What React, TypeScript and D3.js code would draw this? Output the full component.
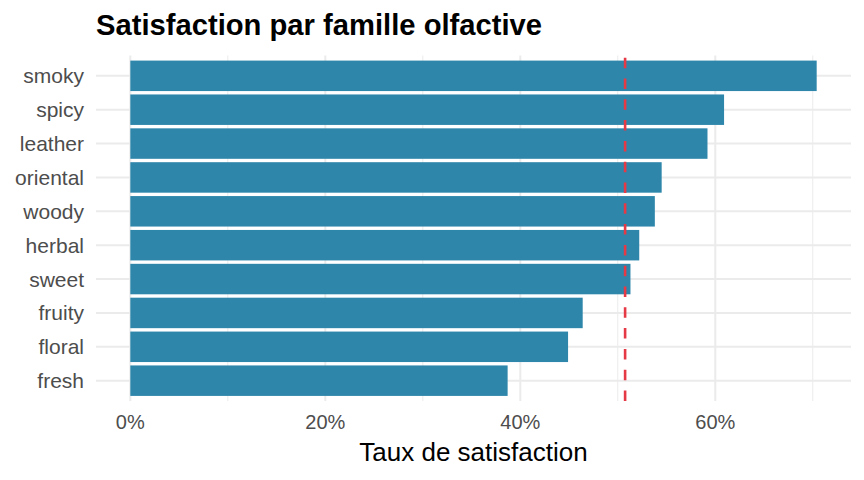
import React from "react";
import * as d3 from "d3";

const categories = ["smoky", "spicy", "leather", "oriental", "woody", "herbal", "sweet", "fruity", "floral", "fresh"];
const satisfaction = [0.704, 0.609, 0.592, 0.545, 0.538, 0.522, 0.513, 0.464, 0.449, 0.387];
const referenceRate = 0.5075;
const majorTicks = [0, 0.2, 0.4, 0.6];
const minorTicks = [0.1, 0.3, 0.5, 0.7];

const W = 864;
const H = 480;
const panel = { left: 96, right: 851, top: 55.5, bottom: 401 };

export default function App() {
  const maxV = d3.max(satisfaction) as number;
  const pad = maxV * 0.05;
  const x = d3.scaleLinear().domain([-pad, maxV + pad]).range([panel.left, panel.right]);
  const y = d3
    .scaleBand<string>()
    .domain(categories)
    .range([panel.top, panel.bottom])
    .paddingInner(0.1)
    .paddingOuter(0.15);
  const fmt = d3.format(".0%");
  const font = "'Liberation Sans', Arial, sans-serif";

  return (
    <svg width={W} height={H} style={{ position: "absolute", left: 0, top: 0 }} fontFamily={font}>
      <rect width={W} height={H} fill="#ffffff" />
      <text x={96} y={35} fontSize={29.2} fontWeight="bold" fill="#000">
        Satisfaction par famille olfactive
      </text>
      {minorTicks.map((t) => (
        <line key={"mi" + t} x1={x(t)} x2={x(t)} y1={panel.top} y2={panel.bottom} stroke="#ebebeb" strokeWidth={1} />
      ))}
      {majorTicks.map((t) => (
        <line key={"ma" + t} x1={x(t)} x2={x(t)} y1={panel.top} y2={panel.bottom} stroke="#ebebeb" strokeWidth={2} />
      ))}
      {categories.map((c) => {
        const cy = (y(c) as number) + y.bandwidth() / 2;
        return (
          <line key={"hg" + c} x1={panel.left} x2={panel.right} y1={cy} y2={cy} stroke="#ebebeb" strokeWidth={2} />
        );
      })}
      {categories.map((c, i) => (
        <rect
          key={"b" + c}
          x={x(0)}
          y={y(c) as number}
          width={x(satisfaction[i]) - x(0)}
          height={y.bandwidth()}
          fill="#2E86AB"
        />
      ))}
      <line
        x1={x(referenceRate)}
        x2={x(referenceRate)}
        y1={panel.bottom}
        y2={panel.top}
        stroke="#E63946"
        strokeWidth={2.6}
        strokeDasharray="10.5 10.3"
      />
      {categories.map((c) => {
        const cy = (y(c) as number) + y.bandwidth() / 2;
        return (
          <text key={"yl" + c} x={84} y={cy} dy="0.36em" textAnchor="end" fontSize={21} fill="#4d4d4d">
            {c}
          </text>
        );
      })}
      {majorTicks.map((t) => (
        <text key={"xl" + t} x={x(t)} y={429} textAnchor="middle" fontSize={20} fill="#4d4d4d">
          {fmt(t)}
        </text>
      ))}
      <text x={(panel.left + panel.right) / 2} y={461} textAnchor="middle" fontSize={26} fill="#000">
        Taux de satisfaction
      </text>
    </svg>
  );
}
